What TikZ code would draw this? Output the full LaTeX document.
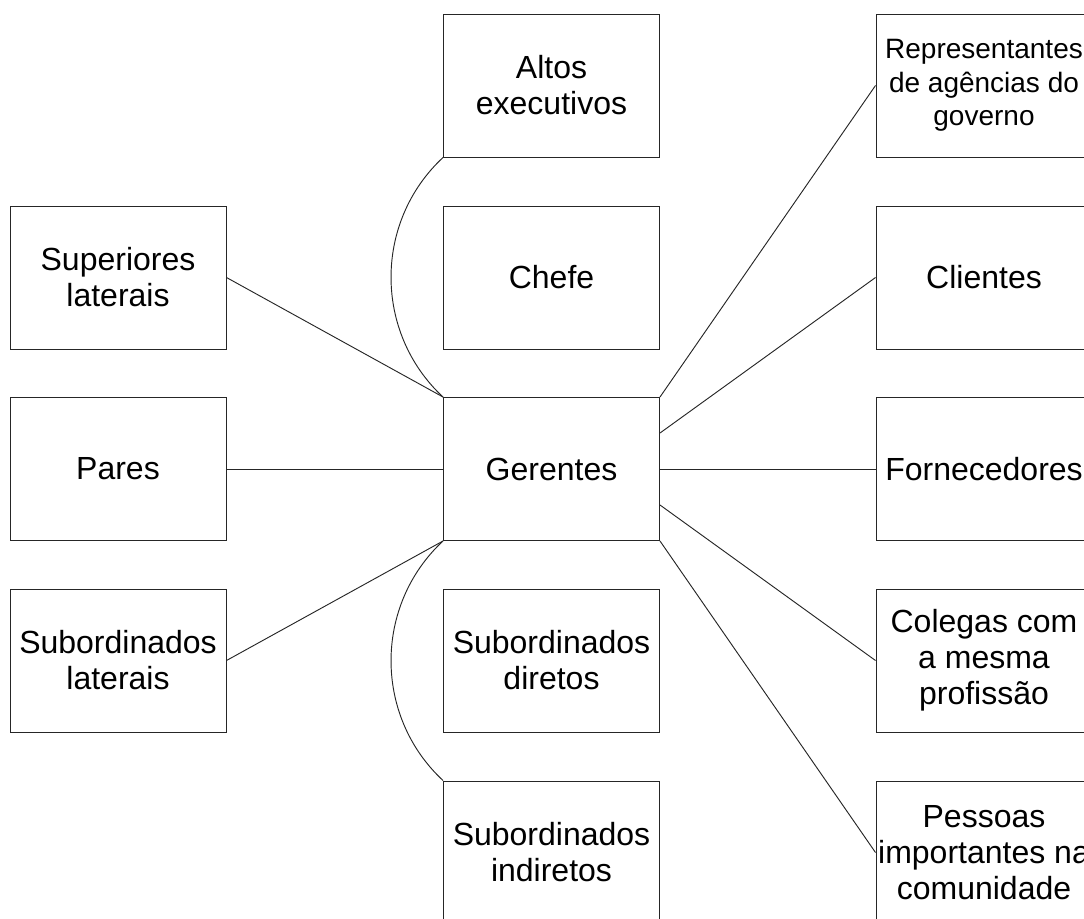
\documentclass[tikz,border=0pt]{standalone}
\usepackage{fontspec}
\setmainfont{Liberation Sans}
\usetikzlibrary{calc}
\tikzset{
  box/.style={draw=black!85, line width=0.75pt, fill=white, minimum width=162pt, minimum height=107.25pt,
    inner sep=0pt, align=center, font=\fontsize{24}{27}\selectfont},
  smallbox/.style={box, font=\fontsize{21}{25}\selectfont},
  link/.style={draw=black!85, line width=0.7pt}
}
\begin{document}
\begin{tikzpicture}[x=0.75pt, y=-0.75pt]
\useasboundingbox (0,0) rectangle (1084,918);
\clip (0,0) rectangle (1084,918);
% left column
\node[box] (sup) at (118,277.5) {Superiores\\laterais};
\node[box] (par) at (118,469) {Pares};
\node[box] (subl) at (118,660.5) {Subordinados\\laterais};
% middle column
\node[box] (alt) at (551.5,85.5) {Altos\\executivos};
\node[box] (che) at (551.5,277.5) {Chefe};
\node[box] (ger) at (551.5,469) {Gerentes};
\node[box] (subd) at (551.5,660.5) {Subordinados\\diretos};
\node[box] (subi) at (551.5,852.5) {Subordinados\\indiretos};
% right column
\node[smallbox] (rep) at (984,85.5) {Representantes\\de agências do\\governo};
\node[box] (cli) at (984,277.5) {Clientes};
\node[box] (for) at (984,469) {Fornecedores};
\node[box] (col) at (984,660.5) {Colegas com\\a mesma\\profissão};
\node[box] (pes) at (984,852.5) {Pessoas\\importantes na\\comunidade};
% connectors
\draw[link] (sup.east) -- (ger.north west);
\draw[link] (par.east) -- (ger.west);
\draw[link] (subl.east) -- (ger.south west);
\draw[link] (alt.south west) .. controls +(-69.3,64.5) and +(-69.3,-64.5) .. (ger.north west);
\draw[link] (ger.south west) .. controls +(-69.3,64.5) and +(-69.3,-64.5) .. (subi.north west);
\draw[link] (ger.north east) -- (rep.west);
\draw[link] ($(ger.north east)!0.25!(ger.south east)$) -- (cli.west);
\draw[link] (ger.east) -- (for.west);
\draw[link] ($(ger.north east)!0.75!(ger.south east)$) -- (col.west);
\draw[link] (ger.south east) -- (pes.west);
\end{tikzpicture}
\end{document}
